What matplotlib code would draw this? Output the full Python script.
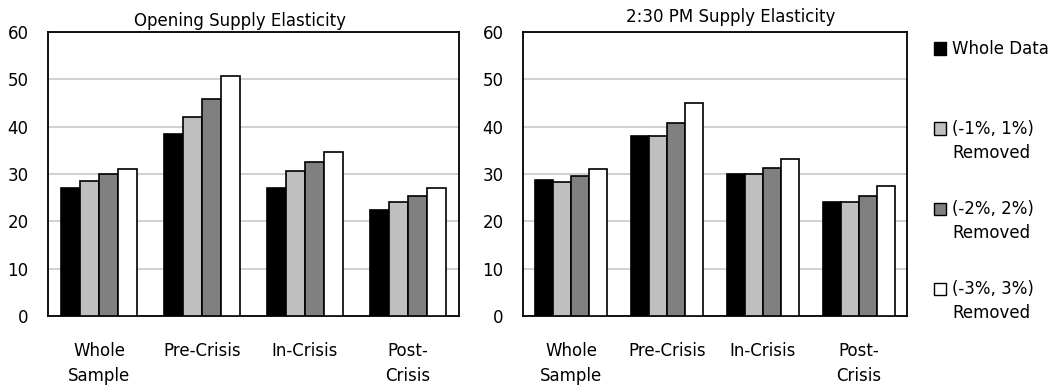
import numpy as np
import matplotlib.pyplot as plt
from matplotlib.patches import Rectangle

plt.rcParams['font.family'] = ['DejaVu Sans']

categories = ['Whole\nSample', 'Pre-Crisis', 'In-Crisis', 'Post-\nCrisis']
series_names = ['Whole Data', '(-1%, 1%)\nRemoved', '(-2%, 2%)\nRemoved', '(-3%, 3%)\nRemoved']
colors = ['#000000', '#bfbfbf', '#808080', '#ffffff']

# Opening supply elasticity
opening_whole = [27.0, 38.4, 27.0, 22.4]
opening_1pct = [28.6, 42.0, 30.6, 24.1]
opening_2pct = [29.9, 45.8, 32.6, 25.3]
opening_3pct = [31.1, 50.6, 34.7, 27.0]

# 2:30 PM supply elasticity
pm_whole = [28.7, 38.0, 30.0, 24.1]
pm_1pct = [28.3, 38.0, 30.0, 24.1]
pm_2pct = [29.5, 40.8, 31.2, 25.3]
pm_3pct = [31.1, 45.0, 33.2, 27.4]

opening = [opening_whole, opening_1pct, opening_2pct, opening_3pct]
pm = [pm_whole, pm_1pct, pm_2pct, pm_3pct]

FS = 12
fig = plt.figure(figsize=(10.61, 3.87), dpi=100)
W, H = 1061, 387
ax1 = fig.add_axes([48 / W, 71 / H, 411 / W, 284 / H])
ax2 = fig.add_axes([523 / W, 71 / H, 384 / W, 284 / H])

def draw(ax, data, title, tx, ty):
    x = np.arange(len(categories))
    bw = 0.185
    for i, (vals, c) in enumerate(zip(data, colors)):
        ax.bar(x + (i - 1.5) * bw, vals, bw, color=c, edgecolor='black',
               linewidth=1.2, zorder=3, label=series_names[i])
    ax.set_xlim(-0.5, len(categories) - 0.5)
    ax.set_ylim(0, 60)
    ax.set_yticks(range(0, 61, 10))
    ax.yaxis.grid(True, color='#c8c8c8', linewidth=1.2, zorder=0)
    ax.set_xticks(x)
    ax.set_xticklabels(categories, fontsize=FS, linespacing=1.5)
    ax.tick_params(axis='both', length=0, labelsize=FS)
    ax.tick_params(axis='x', pad=19)
    ax.tick_params(axis='y', pad=14)
    for s in ax.spines.values():
        s.set_color('black')
        s.set_linewidth(1.3)
    ax.text(tx, ty, title, transform=ax.transAxes, ha='center',
            va='baseline', fontsize=FS)

draw(ax1, opening, 'Opening Supply Elasticity', (240 - 48) / 411, 1 + 6 / 284)
draw(ax2, pm, '2:30 PM Supply Elasticity', (731 - 523) / 384, 1 + 10 / 284)

# legend drawn by hand: swatch sits beside the first line of each label
for i, (name, c) in enumerate(zip(series_names, colors)):
    yc = 48.5 + i * 80
    fig.add_artist(Rectangle((934 / W, 1 - (yc + 6) / H), 12 / W, 12 / H,
                             transform=fig.transFigure, facecolor=c,
                             edgecolor='black', linewidth=1.0))
    fig.text(952 / W, 1 - (yc - 9) / H, name, ha='left', va='top',
             fontsize=FS, linespacing=1.45)

fig.savefig('out.png', dpi=100)
